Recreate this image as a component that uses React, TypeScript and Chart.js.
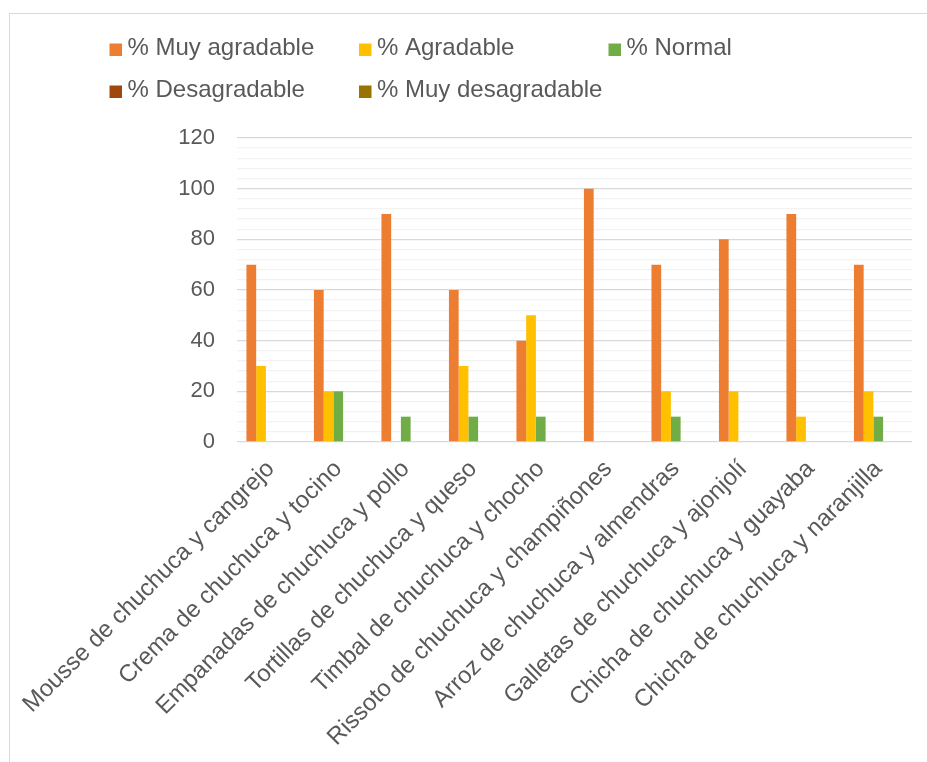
import React, { useEffect, useRef } from "react";
import { Chart, registerables } from "chart.js";

Chart.register(...registerables);

const categories = [
  "Mousse de chuchuca y cangrejo",
  "Crema de chuchuca y tocino",
  "Empanadas de chuchuca y pollo",
  "Tortillas de chuchuca y queso",
  "Timbal de chuchuca y chocho",
  "Rissoto de chuchuca y champiñones",
  "Arroz de chuchuca y almendras",
  "Galletas de chuchuca y ajonjolí",
  "Chicha de chuchuca y guayaba",
  "Chicha de chuchuca y naranjilla",
];

const muyAgradable = [70, 60, 90, 60, 40, 100, 70, 80, 90, 70];
const agradable = [30, 20, 0, 30, 50, 0, 20, 20, 10, 20];
const normal = [0, 20, 10, 10, 10, 0, 10, 0, 0, 10];
const desagradable = [0, 0, 0, 0, 0, 0, 0, 0, 0, 0];
const muyDesagradable = [0, 0, 0, 0, 0, 0, 0, 0, 0, 0];

const seriesLabels = [
  "% Muy agradable",
  "% Agradable",
  "% Normal",
  "% Desagradable",
  "% Muy desagradable",
];
const seriesColors = ["#ED7D31", "#FFC000", "#70AD47", "#9E480E", "#997300"];

const yMax = 120;
const yMajorStep = 20;
const yMinorStep = 4;

const FONT = '"Liberation Sans", Arial, Helvetica, sans-serif';
const TEXT_COLOR = "#595959";

// Legend laid out on a fixed grid of three columns
const legendGrid = {
  id: "legendGrid",
  afterDraw(chart: any) {
    const { ctx } = chart;
    const left = 99.5;
    const colW = 249.5;
    const top = 29.5;
    const rowH = 42;
    const box = 12.5;
    ctx.save();
    ctx.font = `24px ${FONT}`;
    ctx.textBaseline = "middle";
    ctx.textAlign = "left";
    chart.data.datasets.forEach((ds: any, i: number) => {
      const col = i % 3;
      const row = Math.floor(i / 3);
      const x = left + col * colW;
      const y = top + row * rowH;
      ctx.fillStyle = ds.backgroundColor;
      ctx.fillRect(x, y, box, box);
      ctx.fillStyle = TEXT_COLOR;
      ctx.fillText(ds.label, x + box + 5.5, y + box / 2 - 1);
    });
    ctx.restore();
  },
};

export default function App() {
  const canvasRef = useRef<HTMLCanvasElement | null>(null);

  useEffect(() => {
    const canvas = canvasRef.current;
    if (!canvas) return;
    const values = [muyAgradable, agradable, normal, desagradable, muyDesagradable];
    const chart = new Chart(canvas, {
      type: "bar",
      data: {
        labels: categories,
        datasets: values.map((data, i) => ({
          label: seriesLabels[i],
          data,
          backgroundColor: seriesColors[i],
          borderWidth: 0,
          categoryPercentage: 0.72,
          barPercentage: 1,
        })),
      },
      options: {
        animation: false,
        responsive: true,
        maintainAspectRatio: false,
        layout: { padding: { top: 124, right: 15, left: 0, bottom: 0 } },
        plugins: {
          legend: { display: false },
          tooltip: { enabled: false },
        },
        scales: {
          x: {
            grid: { display: false, drawTicks: false },
            border: { display: false },
            ticks: {
              autoSkip: false,
              maxRotation: 45,
              minRotation: 45,
              padding: 13,
              color: TEXT_COLOR,
              font: { family: FONT, size: 24 },
            },
            afterFit(scale: any) {
              scale.height = 320;
              scale.paddingLeft = 0;
              scale.paddingRight = 0;
            },
          },
          y: {
            min: 0,
            max: yMax,
            border: { display: false },
            grid: {
              drawTicks: false,
              lineWidth: 1.3,
              color: (c: any) =>
                c.tick && c.tick.value % yMajorStep === 0 ? "#d9d9d9" : "#f2f2f2",
            },
            ticks: {
              stepSize: yMinorStep,
              autoSkip: false,
              padding: 22,
              color: TEXT_COLOR,
              font: { family: FONT, size: 22 },
              callback: (v: any) => (Number(v) % yMajorStep === 0 ? String(v) : ""),
            },
            afterFit(scale: any) {
              scale.width = 227;
              scale.paddingTop = 0;
              scale.paddingBottom = 0;
            },
          },
        },
      },
      plugins: [legendGrid],
    });
    return () => chart.destroy();
  }, []);

  return (
    <div
      style={{
        position: "fixed",
        left: 9,
        top: 13,
        width: 918,
        height: 749,
        boxSizing: "border-box",
        borderTop: "1px solid #d9d9d9",
        borderLeft: "1px solid #d9d9d9",
        background: "#ffffff",
      }}
    >
      <div style={{ position: "relative", width: 917, height: 748 }}>
        <canvas ref={canvasRef} />
      </div>
    </div>
  );
}
